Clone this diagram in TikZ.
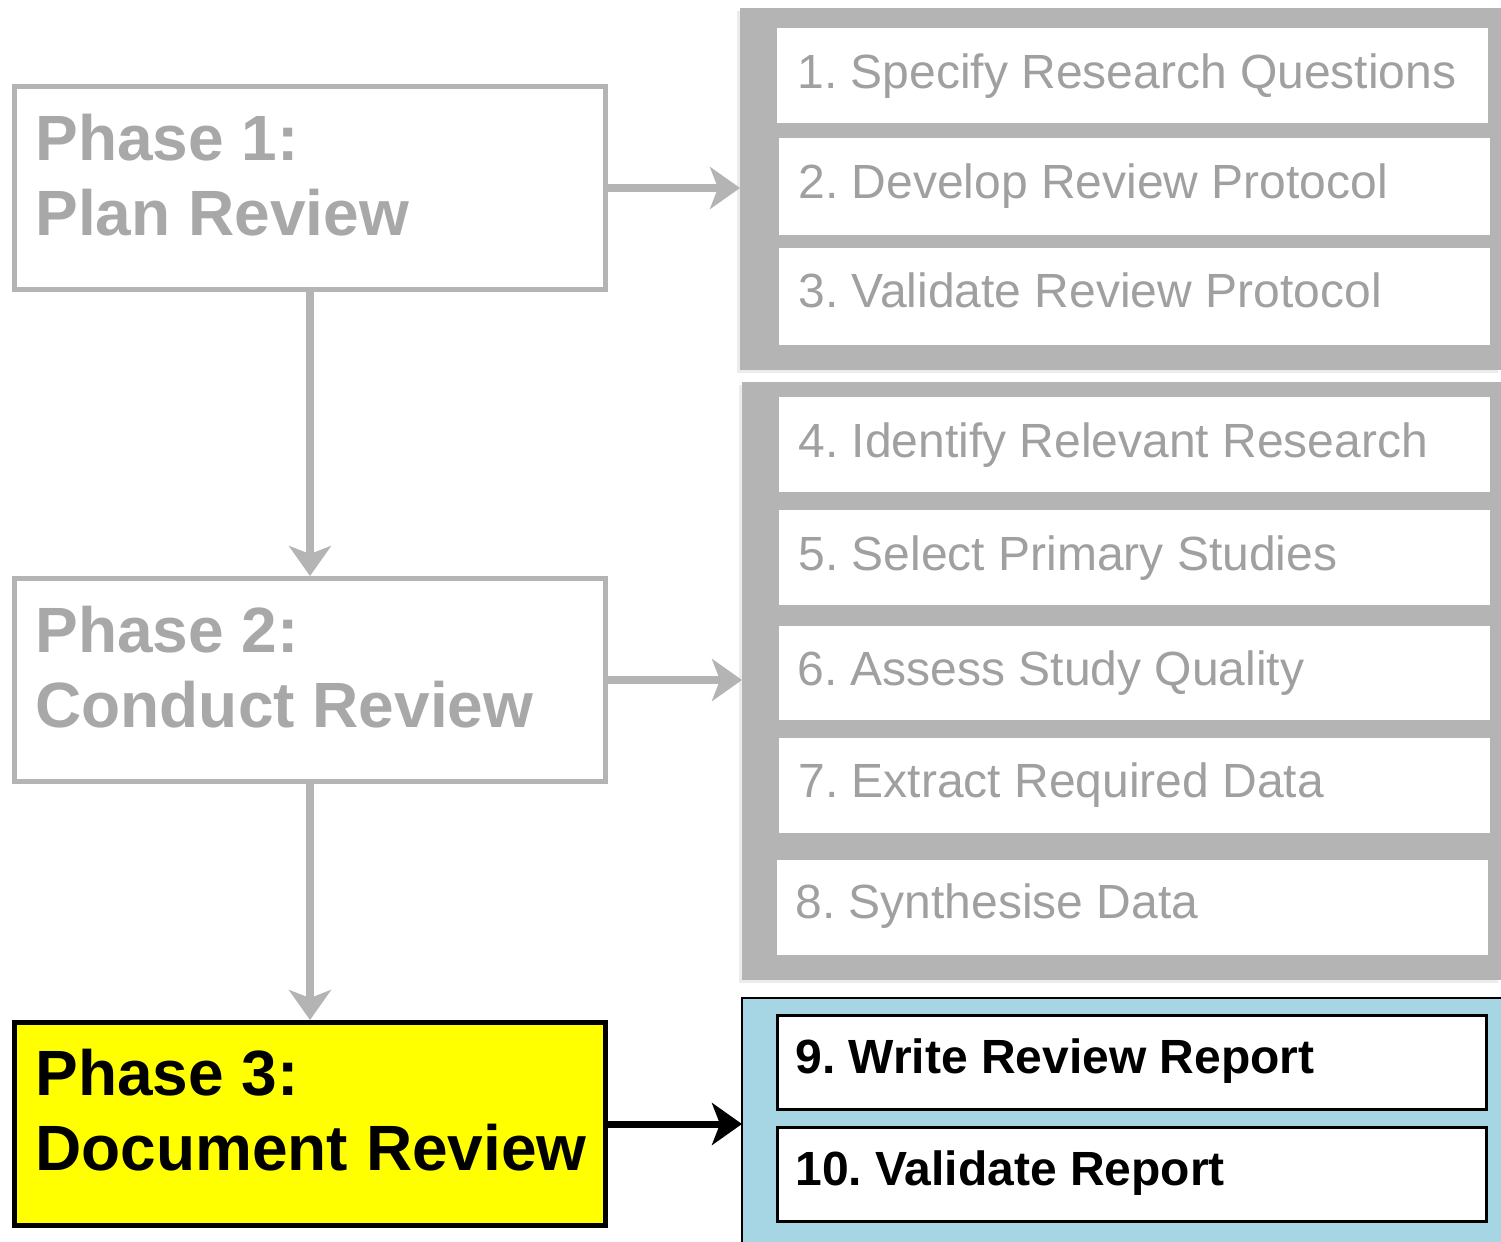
\documentclass[tikz,border=0pt]{standalone}
\usepackage{fontspec}
\setmainfont{Liberation Sans}
\usetikzlibrary{arrows.meta,shadows}
\frenchspacing
\definecolor{pgray}{HTML}{B4B4B4}
\definecolor{tgray}{HTML}{A8A8A8}
\definecolor{rgray}{HTML}{A0A0A0}
\definecolor{pblue}{HTML}{A6D6E3}
\definecolor{pyel}{HTML}{FFFF00}
\tikzset{
  phasebox/.style={draw=pgray, line width=2.5pt, fill=white, anchor=north west, inner sep=0pt},
  curbox/.style={draw=black, line width=2.5pt, fill=pyel, anchor=north west, inner sep=0pt},
  phasetxt/.style={anchor=base west, inner sep=0pt, font=\fontsize{32}{38}\selectfont\bfseries, text=tgray},
  curtxt/.style={anchor=base west, inner sep=0pt, font=\fontsize{32}{38}\selectfont\bfseries, text=black},
  panel/.style={fill=pgray, draw=none, anchor=north west, inner sep=0pt,
     drop shadow={shadow xshift=-1.5pt, shadow yshift=-1.5pt, opacity=0.15}},
  bpanel/.style={fill=pblue, draw=none, anchor=north west, inner sep=0pt},
  wbox/.style={fill=white, draw=none, anchor=north west, inner sep=0pt},
  bbox/.style={fill=white, draw=black, line width=1.5pt, anchor=north west, inner sep=0pt},
  steptxt/.style={anchor=base west, inner sep=0pt, font=\fontsize{24}{29}\selectfont, text=rgray},
  bsteptxt/.style={anchor=base west, inner sep=0pt, font=\fontsize{24}{29}\selectfont\bfseries, text=black},
  garr/.style={draw=pgray, line width=4pt, -{Stealth[length=15pt, width=21pt, inset=4pt]}},
  barr/.style={draw=black, line width=3.5pt, -{Stealth[length=15pt, width=21pt, inset=4pt]}},
}
\begin{document}
\begin{tikzpicture}[x=0.5pt,y=-0.5pt]
\useasboundingbox (0,0) rectangle (1501,1242);

% right panels
\node[panel, minimum width=380.5pt, minimum height=181pt] (g1) at (740,8) {};
\node[panel, minimum width=379.5pt, minimum height=299pt] (g2) at (742,382) {};
\node[bpanel, minimum width=379.5pt, minimum height=122pt] (bp) at (742,998) {};
\draw[black, line width=1pt] (bp.south west) -- (bp.north west) -- (bp.north east);

% white step boxes
\node[wbox, minimum width=355.5pt, minimum height=47.5pt] (s1) at (777,28) {};
\node[wbox, minimum width=355.5pt, minimum height=48.5pt] (s2) at (779,138) {};
\node[wbox, minimum width=355.5pt, minimum height=48.5pt] (s3) at (779,248) {};
\node[wbox, minimum width=355.5pt, minimum height=47.5pt] (s4) at (779,397) {};
\node[wbox, minimum width=355.5pt, minimum height=47.5pt] (s5) at (779,510) {};
\node[wbox, minimum width=355.5pt, minimum height=47pt] (s6) at (779,626) {};
\node[wbox, minimum width=355.5pt, minimum height=47.5pt] (s7) at (779,738) {};
\node[wbox, minimum width=355.5pt, minimum height=47.5pt] (s8) at (777,860) {};
\node[bbox, minimum width=354.5pt, minimum height=47pt] (s9) at (776,1014) {};
\node[bbox, minimum width=354.5pt, minimum height=47pt] (s10) at (776,1126) {};

\node[steptxt] (t1) at (797,88) {1. Specify Research Questions};
\node[steptxt] (t2) at (798,198) {2. Develop Review Protocol};
\node[steptxt] (t3) at (798,307) {3. Validate Review Protocol};
\node[steptxt] (t4) at (798,457) {4. Identify Relevant Research};
\node[steptxt] (t5) at (798,570) {5. Select Primary Studies};
\node[steptxt] (t6) at (797,685) {6. Assess Study Quality};
\node[steptxt] (t7) at (798,797) {7. Extract Required Data};
\node[steptxt] (t8) at (795,918) {8. Synthesise Data};
\node[bsteptxt] (t9) at (795,1073) {9. Write Review Report};
\node[bsteptxt] (t10) at (795,1185) {10. Validate Report};

% phase boxes
\node[phasebox, minimum width=295.5pt, minimum height=101.5pt] (p1) at (12,84) {};
\node[phasebox, minimum width=295.5pt, minimum height=101.5pt] (p2) at (12,576) {};
\node[curbox, minimum width=295.5pt, minimum height=101.5pt] (p3) at (12,1020) {};

\node[phasetxt] (h1a) at (35,160) {Phase 1:};
\node[phasetxt] (h1b) at (35,235) {Plan Review};
\node[phasetxt] (h2a) at (35,652) {Phase 2:};
\node[phasetxt] (h2b) at (35,727) {Conduct Review};
\node[curtxt] (h3a) at (35,1095) {Phase 3:};
\node[curtxt] (h3b) at (35,1170) {Document Review};

% arrows
\draw[garr] (p1.south) -- (p2.north);
\draw[garr] (p2.south) -- (p3.north);
\draw[garr] (p1.east) -- (p1.east -| g1.west);
\draw[garr] (p2.east) -- (p2.east -| g2.west);
\draw[barr] (p3.east) -- (p3.east -| bp.west);
\end{tikzpicture}
\end{document}
